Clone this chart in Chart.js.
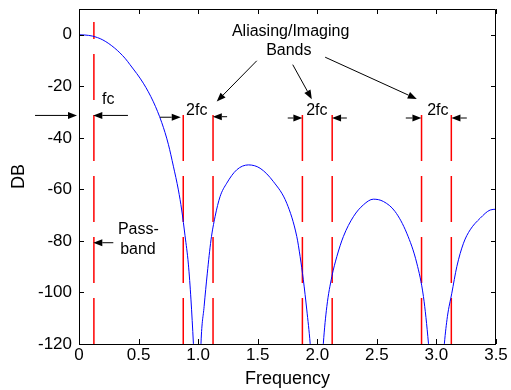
<!DOCTYPE html>
<html>
<head>
<meta charset="utf-8">
<script src="https://cdn.jsdelivr.net/npm/chart.js@4.4.1/dist/chart.umd.min.js"></script>
<style>
  html, body { margin: 0; padding: 0; background: #fff; }
  #wrap { width: 511px; height: 390px; }
</style>
</head>
<body>
<div id="wrap"><canvas id="chartDb"></canvas></div>
<script>
// response curve (nulls go below the axis floor)
const freq = [0, 0.05, 0.112, 0.2, 0.3, 0.386, 0.428, 0.54, 0.624, 0.694, 0.75, 0.792, 0.834, 0.862, 0.89, 0.918, 0.94, 0.96, 1.0,
    1.024, 1.05, 1.077, 1.108, 1.142, 1.184, 1.24, 1.324, 1.422, 1.52, 1.632, 1.744, 1.828, 1.856, 1.883, 1.912, 1.94, 2.0,
    2.051, 2.08, 2.122, 2.164, 2.219, 2.303, 2.387, 2.471, 2.555, 2.653, 2.751, 2.835, 2.891, 2.933, 3.0,
    3.067, 3.092, 3.129, 3.171, 3.227, 3.283, 3.367, 3.451, 3.5];
const gainDb = [0, -0.1, -0.5, -2.0, -5.2, -9.1, -11.6, -18.8, -26, -34, -42.5, -51, -60.2, -68, -78, -89, -102.9, -119.7, -160,
    -119.7, -105.5, -92.5, -79.6, -70.6, -62.8, -57.6, -52.4, -50.5, -51.8, -57, -65.4, -78.3, -86.1, -95.1, -106.8, -119.7, -160,
    -119.7, -105.5, -93.9, -86.1, -78.3, -70.6, -66, -63.8, -64.7, -68.6, -77, -88.6, -101.6, -119.7, -160,
    -119.7, -109.4, -100.3, -90, -80.9, -75.7, -71.2, -68, -67.7];

const xTicks = [0, 0.5, 1, 1.5, 2, 2.5, 3, 3.5];
const yTicks = [-120, -100, -80, -60, -40, -20, 0];

// red band edge markers: x position and top end (dB)
const edgeFreq = [0.125, 0.875, 1.125, 1.875, 2.125, 2.875, 3.125];
const edgeTop = [5, -30, -30, -30, -30, -30, -30];

// annotation text [label, f, dB]
const notes = [
    ['fc', 0.246, -25],
    ['2fc', 0.988, -29.5],
    ['2fc', 1.996, -29.4],
    ['2fc', 3.012, -29.4],
    ['Aliasing/Imaging', 1.776, 1.3],
    ['Bands', 1.761, -6.2],
    ['Pass-', 0.498, -75.7],
    ['band', 0.495, -83.5]
];
// arrows [fromF, fromDb, tipF, tipDb]
const arrows = [
    [-0.369, -31.3, -0.017, -31.3],
    [0.411, -31.3, 0.12, -31.3],
    [0.68, -32, 0.854, -32],
    [1.243, -31.8, 1.123, -31.8],
    [1.752, -32.3, 1.875, -32.3],
    [2.248, -32.3, 2.124, -32.3],
    [2.743, -32.3, 2.874, -32.3],
    [3.255, -32.3, 3.126, -32.3],
    [1.492, -10.1, 1.156, -25.9],
    [1.794, -11.6, 1.954, -25.0],
    [2.066, -8.7, 2.835, -24.9],
    [0.288, -80.7, 0.12, -80.7]
];

const FONT = 'Liberation Sans, Arial, sans-serif';

const datasets = [{
    data: freq.map((f, i) => ({ x: f, y: gainDb[i] })),
    borderColor: '#0000ff',
    borderWidth: 1,
    pointRadius: 0,
    showLine: true,
    cubicInterpolationMode: 'monotone'
}];
edgeFreq.forEach((f, i) => {
    datasets.push({
        data: [{ x: f, y: -120 }, { x: f, y: edgeTop[i] }],
        borderColor: '#ff0000',
        borderWidth: 1.5,
        borderDash: [46, 15],
        pointRadius: 0,
        showLine: true
    });
});

const framePlugin = {
    id: 'frame',
    afterDraw(chart) {
        const { ctx, chartArea: a, scales: { x, y } } = chart;
        ctx.save();
        ctx.strokeStyle = '#000';
        ctx.lineWidth = 1;
        ctx.beginPath();
        ctx.rect(a.left + 0.5, a.top + 0.5, a.right - a.left - 1, a.bottom - a.top);
        ctx.stroke();
        // inward ticks on all four sides
        ctx.beginPath();
        xTicks.forEach(v => {
            const px = Math.round(x.getPixelForValue(v)) + 0.5;
            ctx.moveTo(px, a.bottom); ctx.lineTo(px, a.bottom - 5);
            ctx.moveTo(px, a.top); ctx.lineTo(px, a.top + 5);
        });
        yTicks.forEach(v => {
            const py = Math.round(y.getPixelForValue(v)) + 0.5;
            ctx.moveTo(a.left, py); ctx.lineTo(a.left + 5, py);
            ctx.moveTo(a.right, py); ctx.lineTo(a.right - 5, py);
        });
        ctx.stroke();

        // arrows
        ctx.fillStyle = '#000';
        arrows.forEach(([f0, d0, f1, d1]) => {
            const x0 = x.getPixelForValue(f0), y0 = y.getPixelForValue(d0);
            const x1 = x.getPixelForValue(f1), y1 = y.getPixelForValue(d1);
            const ang = Math.atan2(y1 - y0, x1 - x0);
            const len = 9, half = 3.5;
            const bx = x1 - len * Math.cos(ang), by = y1 - len * Math.sin(ang);
            ctx.beginPath();
            ctx.moveTo(x0, y0); ctx.lineTo(bx, by);
            ctx.stroke();
            ctx.beginPath();
            ctx.moveTo(x1, y1);
            ctx.lineTo(bx + half * Math.sin(ang), by - half * Math.cos(ang));
            ctx.lineTo(bx - half * Math.sin(ang), by + half * Math.cos(ang));
            ctx.closePath();
            ctx.fill();
        });

        // text notes
        ctx.font = '16px ' + FONT;
        ctx.textAlign = 'center';
        ctx.textBaseline = 'middle';
        notes.forEach(([t, f, d]) => {
            ctx.fillText(t, x.getPixelForValue(f), y.getPixelForValue(d));
        });
        ctx.restore();
    }
};

new Chart(document.getElementById('chartDb'), {
    type: 'scatter',
    data: { datasets },
    plugins: [framePlugin],
    options: {
        responsive: true,
        maintainAspectRatio: false,
        animation: false,
        layout: { padding: { top: 9, right: 15, left: 0, bottom: 0 } },
        plugins: { legend: { display: false }, tooltip: { enabled: false } },
        scales: {
            x: {
                type: 'linear', min: 0, max: 3.5,
                grid: { display: false, drawTicks: false },
                border: { display: false },
                afterBuildTicks: s => { s.ticks = xTicks.map(v => ({ value: v })); },
                afterFit: s => { s.height = 46; s.paddingLeft = 0; s.paddingRight = 0; },
                ticks: { color: '#000', padding: 1, maxRotation: 0, font: { family: FONT, size: 17 } },
                title: { display: true, text: 'Frequency', color: '#000', padding: { top: 0, bottom: 0 }, font: { family: FONT, size: 18 } }
            },
            y: {
                type: 'linear', min: -120, max: 10,
                grid: { display: false, drawTicks: false },
                border: { display: false },
                afterBuildTicks: s => { s.ticks = yTicks.map(v => ({ value: v })); },
                afterFit: s => { s.width = 79; s.paddingTop = 0; s.paddingBottom = 0; },
                ticks: { color: '#000', padding: 7, font: { family: FONT, size: 17 } },
                title: { display: true, text: 'DB', color: '#000', padding: { top: 8, bottom: 0 }, font: { family: FONT, size: 18 } }
            }
        }
    }
});
</script>
</body>
</html>
